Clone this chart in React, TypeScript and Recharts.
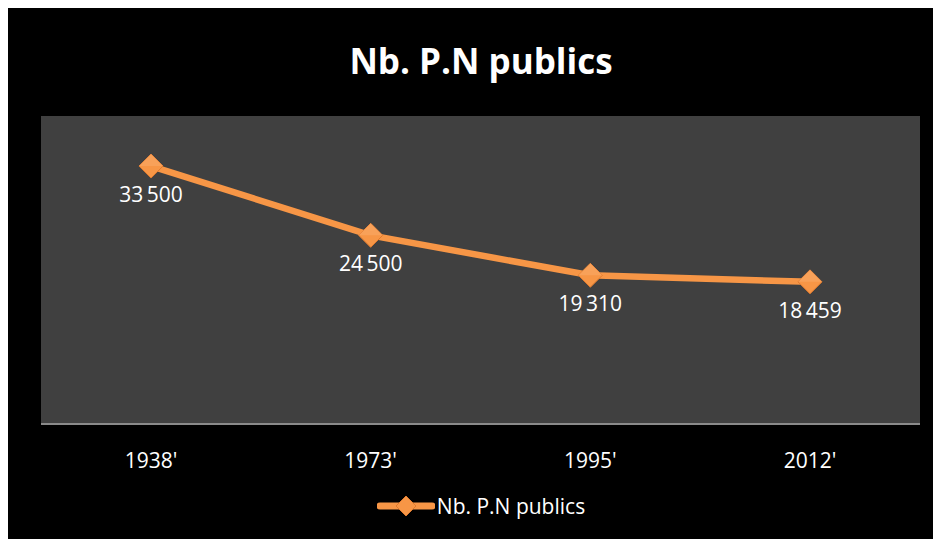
import React from "react";
import { LineChart, Line, XAxis, YAxis, CartesianGrid, LabelList, Legend } from "recharts";

const categories = ["1938'", "1973'", "1995'", "2012'"];
const values = [33500, 24500, 19310, 18459];
const seriesName = "Nb. P.N publics";
const title = "Nb. P.N publics";

const data = categories.map((c, i) => ({ year: c, value: values[i] }));

const ORANGE = "#F79646";
const FONT = "'Open Sans', 'Noto Sans', sans-serif";

const fmt = (v: number) => {
  const s = String(v);
  return s.length > 3 ? s.slice(0, s.length - 3) + "\u2009" + s.slice(-3) : s;
};

const Diamond = (props: any) => {
  const { cx, cy } = props;
  if (cx == null || cy == null) return null;
  const r = 12;
  return (
    <g>
      <path
        d={`M${cx},${cy - r} L${cx + r},${cy} L${cx},${cy + r} L${cx - r},${cy} Z`}
        fill={ORANGE}
        stroke="#E07A2E"
        strokeWidth={1}
      />
      <path
        d={`M${cx - r},${cy} L${cx},${cy - r} L${cx + r},${cy} Z`}
        fill="#F9A865"
        opacity={0.6}
      />
    </g>
  );
};

const LegendContent = () => (
  <div style={{ display: "flex", alignItems: "center", justifyContent: "center", height: 26 }}>
    <svg width={58} height={26} style={{ marginRight: 2 }}>
      <line x1={3} y1={13} x2={55} y2={13} stroke={ORANGE} strokeWidth={7} strokeLinecap="round" />
      <path d="M29,3 L39,13 L29,23 L19,13 Z" fill={ORANGE} stroke="#E07A2E" />
    </svg>
    <span style={{ color: "#fff", fontFamily: FONT, fontSize: 21, lineHeight: "26px" }}>{seriesName}</span>
  </div>
);

export default function App() {
  return (
    <div style={{ position: "relative", width: 941, height: 547, margin: -8, background: "#fff", overflow: "hidden" }}>
      <div style={{ position: "absolute", left: 5, top: 7, width: 936, height: 540, background: "#000", borderTopLeftRadius: 6 }} />
      <div
        style={{
          position: "absolute",
          left: 0,
          top: 37,
          width: 962,
          textAlign: "center",
          color: "#fff",
          fontFamily: FONT,
          fontWeight: 700,
          fontSize: 35,
          lineHeight: "48px",
          letterSpacing: 0,
        }}
      >
        {title}
      </div>
      <div style={{ position: "absolute", left: 0, top: 0 }}>
        <LineChart width={941} height={547} data={data} margin={{ top: 116, right: 21, bottom: 67, left: 41 }}>
          <CartesianGrid fill="#404040" stroke="none" horizontal={false} vertical={false} />
          <XAxis
            dataKey="year"
            padding={{ left: 110, right: 110 }}
            height={30}
            axisLine={{ stroke: "#8a8a8a", strokeWidth: 2 }}
            tickLine={false}
            tickMargin={23}
            tick={{ fill: "#fff", fontFamily: FONT, fontSize: 21 }}
          />
          <YAxis hide domain={[0, 40000]} />
          <Legend
            verticalAlign="bottom"
            content={<LegendContent />}
            wrapperStyle={{ top: 493, left: 0, width: 962, height: 26 }}
          />
          <Line
            dataKey="value"
            name={seriesName}
            stroke={ORANGE}
            strokeWidth={6.5}
            dot={<Diamond />}
            activeDot={false}
            isAnimationActive={false}
          >
            <LabelList
              dataKey="value"
              position="bottom"
              offset={21}
              formatter={(v: any) => fmt(Number(v))}
              fill="#fff"
              fontFamily={FONT}
              fontSize={21}
            />
          </Line>
        </LineChart>
      </div>
    </div>
  );
}
